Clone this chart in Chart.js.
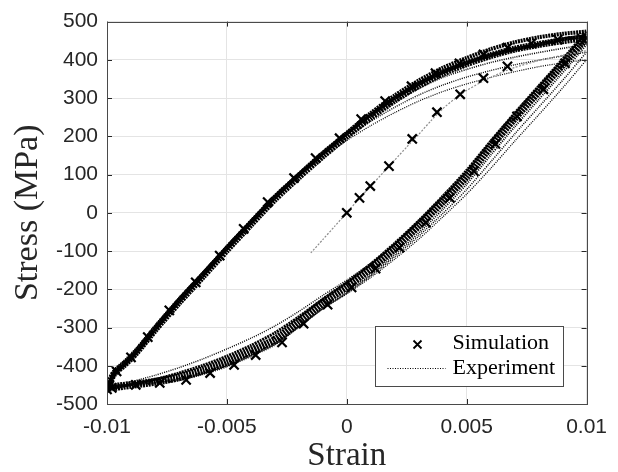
<!DOCTYPE html>
<html>
<head>
<meta charset="utf-8">
<script src="https://cdn.jsdelivr.net/npm/chart.js@4.4.0/dist/chart.umd.min.js"></script>
<style>
  html, body { margin: 0; padding: 0; background: #ffffff; }
  canvas { display: block; }
</style>
</head>
<body>
<canvas id="graph-canvas" width="618" height="472"></canvas>
<script>
// axis ticks
const xTickValues = [-0.01, -0.005, 0, 0.005, 0.01];
const xTickLabels = ['-0.01', '-0.005', '0', '0.005', '0.01'];
const yTickValues = [-500, -400, -300, -200, -100, 0, 100, 200, 300, 400, 500];
const yTickLabels = ['-500', '-400', '-300', '-200', '-100', '0', '100', '200', '300', '400', '500'];

// simulation markers (x)
const simInitStrain = [0.0000, 0.00053, 0.00098, 0.00176, 0.00273, 0.00376, 0.00473, 0.0057, 0.0067];
const simInitStress = [0, 39, 70, 122, 193, 263, 310, 352, 383];
const simDownStrain = [0.0100, 0.0099, 0.0091, 0.0082, 0.0071, 0.0062, 0.0053, 0.0043, 0.0033, 0.0022, 0.0012, 0.0002, -0.0008, -0.0018, -0.0027, -0.0038, -0.0047, -0.0057, -0.0067, -0.0078, -0.0088, -0.0098];
const simDownStress = [458, 450, 391, 323, 252, 180, 109, 39, -26, -91, -146, -195, -240, -290, -339, -372, -398, -419, -437, -445, -450, -458];
const simUpStrain = [-0.0100, -0.0099, -0.0096, -0.0090, -0.0083, -0.0074, -0.0063, -0.0053, -0.0043, -0.0033, -0.0022, -0.0013, -0.0003, 0.0006, 0.0016, 0.0027, 0.0037, 0.0047, 0.0057, 0.0067, 0.0077, 0.0088, 0.0098];
const simUpStress = [-462, -452, -415, -378, -325, -255, -182, -112, -42, 28, 91, 143, 195, 245, 292, 331, 365, 391, 414, 432, 443, 453, 456];

// experiment: first loading
const expInitStrain = [-0.0015, -0.0010, -0.0005, 0.0000, 0.0005, 0.0010, 0.0015, 0.0020, 0.0025, 0.0030, 0.0035, 0.0040, 0.0045, 0.0050, 0.0055, 0.0060, 0.0065, 0.0070, 0.0080, 0.0090, 0.0100];
const expInitStress = [-105, -70, -35, 0, 36, 70, 104, 138, 172, 205, 240, 272, 298, 320, 338, 354, 368, 380, 398, 412, 424];

// experiment: loading branches of the cycles
const strainUp = [-0.0100, -0.0097, -0.0093, -0.0088, -0.0080, -0.0070, -0.0060, -0.0050, -0.0040, -0.0030, -0.0020, -0.0010, 0.0000, 0.0010, 0.0020, 0.0030, 0.0040, 0.0050, 0.0060, 0.0070, 0.0080, 0.0090, 0.0100];
const up1 = [-462, -422, -399, -367, -305, -231, -163, -93, -26, 40, 99, 156, 209, 261, 307, 346, 379, 405, 428, 446, 459, 468, 474];
const up2 = [-458, -420, -398, -367, -306, -234, -166, -97, -30, 36, 94, 149, 201, 250, 295, 333, 365, 390, 411, 428, 440, 450, 458];
const up3 = [-456, -413, -390, -358, -296, -223, -155, -86, -19, 46, 103, 156, 204, 250, 290, 325, 354, 375, 393, 407, 419, 430, 440];
const up4 = [-454, -411, -388, -356, -295, -222, -154, -86, -20, 44, 100, 151, 197, 239, 276, 308, 334, 355, 372, 387, 399, 410, 420];
const up5 = [-452, -409, -386, -354, -293, -221, -154, -87, -22, 41, 96, 145, 189, 228, 262, 292, 317, 337, 354, 369, 382, 392, 400];
const up6 = [-460, -419, -396, -364, -302, -229, -160, -90, -23, 43, 101, 157, 208, 257, 300, 337, 368, 392, 412, 428, 440, 454, 462];

// experiment: unloading branches of the cycles
const strainDown = [0.0100, 0.0097, 0.0093, 0.0088, 0.0080, 0.0070, 0.0060, 0.0050, 0.0040, 0.0030, 0.0020, 0.0010, 0.0000, -0.0010, -0.0020, -0.0030, -0.0040, -0.0050, -0.0060, -0.0070, -0.0080, -0.0090, -0.0100];
const dn1 = [474, 452, 423, 387, 331, 260, 187, 111, 43, -21, -80, -134, -182, -226, -272, -314, -347, -375, -399, -419, -436, -449, -462];
const dn2 = [458, 438, 409, 374, 318, 248, 174, 96, 30, -33, -92, -145, -192, -235, -285, -332, -362, -390, -412, -430, -442, -450, -458];
const dn3 = [440, 418, 388, 352, 296, 225, 151, 75, 9, -53, -109, -161, -207, -249, -298, -345, -375, -402, -422, -438, -446, -451, -456];
const dn4 = [420, 398, 368, 332, 276, 206, 133, 61, -2, -61, -115, -165, -210, -251, -299, -344, -374, -400, -420, -436, -444, -450, -454];
const dn5 = [400, 378, 348, 312, 256, 187, 116, 49, -11, -69, -121, -169, -212, -251, -297, -340, -370, -396, -417, -433, -442, -448, -452];
const dn6 = [462, 441, 411, 376, 320, 251, 178, 103, 37, -25, -83, -132, -176, -216, -258, -296, -328, -356, -382, -405, -425, -442, -460];

const axisColor = '#262626';

function pairs(xs, ys) {
    return xs.map((x, i) => ({ x: x, y: ys[i] }));
}

function expBranch(xs, ys, width) {
    return {
        label: 'Experiment',
        data: pairs(xs, ys),
        borderColor: '#000000',
        borderWidth: width,
        borderDash: width > 2 ? [2, 0.8] : [1, 1.2],
        pointRadius: 0,
        tension: 0.25,
        showLine: true,
        order: 2
    };
}

const datasets = [];
datasets.push({
    label: 'Simulation',
    data: pairs(simInitStrain, simInitStress)
        .concat(pairs(simDownStrain, simDownStress))
        .concat(pairs(simUpStrain, simUpStress)),
    showLine: false,
    pointStyle: 'crossRot',
    pointRadius: 6.5,
    borderColor: '#000000',
    borderWidth: 2.2,
    order: 0
});
datasets.push({
    label: 'Experiment',
    data: pairs(expInitStrain, expInitStress),
    borderColor: '#8c8c8c',
    borderWidth: 1.2,
    borderDash: [2, 1.5],
    pointRadius: 0,
    tension: 0.2,
    showLine: true,
    order: 1
});
// heavier lines for the cycles that sit on top of each other
const upWidths = [4, 7, 1.6, 1.4, 1.2, 4];
const dnWidths = [3, 8, 2, 1.5, 1.3, 1.4];
[up1, up2, up3, up4, up5, up6].forEach((s, i) => datasets.push(expBranch(strainUp, s, upWidths[i])));
[dn1, dn2, dn3, dn4, dn5, dn6].forEach((s, i) => datasets.push(expBranch(strainDown, s, dnWidths[i])));

// box round the axes and MATLAB style inward ticks
const boxPlugin = {
    id: 'boxPlugin',
    afterDatasetsDraw(chart) {
        const ctx = chart.ctx;
        const a = chart.chartArea;
        const xs = chart.scales.x;
        const ys = chart.scales.y;
        ctx.save();
        ctx.strokeStyle = axisColor;
        ctx.lineWidth = 1;
        ctx.beginPath();
        xs.ticks.forEach(t => {
            const px = Math.round(xs.getPixelForValue(t.value)) + 0.5;
            ctx.moveTo(px, a.top); ctx.lineTo(px, a.top + 5);
            ctx.moveTo(px, a.bottom); ctx.lineTo(px, a.bottom - 5);
        });
        ys.ticks.forEach(t => {
            const py = Math.round(ys.getPixelForValue(t.value)) + 0.5;
            ctx.moveTo(a.left, py); ctx.lineTo(a.left + 5, py);
            ctx.moveTo(a.right, py); ctx.lineTo(a.right - 5, py);
        });
        ctx.stroke();
        ctx.strokeStyle = '#4a4a4a';
        ctx.strokeRect(Math.round(a.left) + 0.5, Math.round(a.top) + 0.5, Math.round(a.right - a.left), Math.round(a.bottom - a.top));
        ctx.restore();
    }
};

// legend drawn in the lower right corner of the axes
const legendPlugin = {
    id: 'boxLegend',
    afterDraw(chart) {
        const ctx = chart.ctx;
        const a = chart.chartArea;
        const w = 188, h = 60;
        const x0 = Math.round(a.right - 24 - w) + 0.5;
        const y0 = Math.round(a.bottom - 18 - h) + 0.5;
        ctx.save();
        ctx.fillStyle = '#ffffff';
        ctx.fillRect(x0, y0, w, h);
        ctx.strokeStyle = '#4a4a4a';
        ctx.lineWidth = 1;
        ctx.strokeRect(x0, y0, w, h);

        // marker
        const mx = x0 + 42, my = y0 + 18;
        ctx.strokeStyle = '#000000';
        ctx.lineWidth = 1.8;
        ctx.beginPath();
        ctx.moveTo(mx - 4, my - 4); ctx.lineTo(mx + 4, my + 4);
        ctx.moveTo(mx - 4, my + 4); ctx.lineTo(mx + 4, my - 4);
        ctx.stroke();

        // dotted line sample
        ctx.lineWidth = 1;
        ctx.setLineDash([1, 1.5]);
        ctx.beginPath();
        ctx.moveTo(x0 + 12, y0 + 42);
        ctx.lineTo(x0 + 70, y0 + 42);
        ctx.stroke();
        ctx.setLineDash([]);

        ctx.fillStyle = '#000000';
        ctx.font = '22px "Liberation Serif"';
        ctx.textBaseline = 'middle';
        ctx.fillText(chart.data.datasets[0].label, x0 + 77, y0 + 17);
        ctx.fillText(chart.data.datasets[1].label, x0 + 77, y0 + 42);
        ctx.restore();
    }
};

const config = {
    type: 'scatter',
    data: { datasets: datasets },
    options: {
        responsive: false,
        animation: false,
        devicePixelRatio: 1,
        layout: { padding: { top: 20, right: 21, left: 0, bottom: 0 } },
        plugins: {
            legend: { display: false },
            tooltip: { enabled: false }
        },
        scales: {
            x: {
                type: 'linear',
                min: -0.01,
                max: 0.01,
                afterBuildTicks: scale => { scale.ticks = xTickValues.map(v => ({ value: v })); },
                afterFit: scale => { scale.height = 68; },
                ticks: {
                    callback: (value, index) => xTickLabels[index],
                    color: axisColor,
                    font: { family: 'Liberation Sans', size: 21 },
                    padding: 11,
                    maxRotation: 0
                },
                grid: { color: '#e4e4e4', drawTicks: false },
                border: { display: false },
                title: {
                    display: true,
                    text: 'Strain',
                    color: axisColor,
                    font: { family: 'Liberation Serif', size: 33 },
                    padding: { top: 0, bottom: -4 }
                }
            },
            y: {
                type: 'linear',
                min: -500,
                max: 500,
                afterBuildTicks: scale => { scale.ticks = yTickValues.map(v => ({ value: v })); },
                afterFit: scale => { scale.width = 107; },
                ticks: {
                    callback: (value, index) => yTickLabels[index],
                    color: axisColor,
                    font: { family: 'Liberation Sans', size: 21 },
                    padding: 9
                },
                grid: { color: '#e4e4e4', drawTicks: false },
                border: { display: false },
                title: {
                    display: true,
                    text: 'Stress (MPa)',
                    color: axisColor,
                    font: { family: 'Liberation Serif', size: 34 },
                    padding: { top: 8, bottom: 0 }
                }
            }
        }
    },
    plugins: [boxPlugin, legendPlugin]
};

const graph = new Chart(document.getElementById('graph-canvas'), config);
</script>
</body>
</html>
